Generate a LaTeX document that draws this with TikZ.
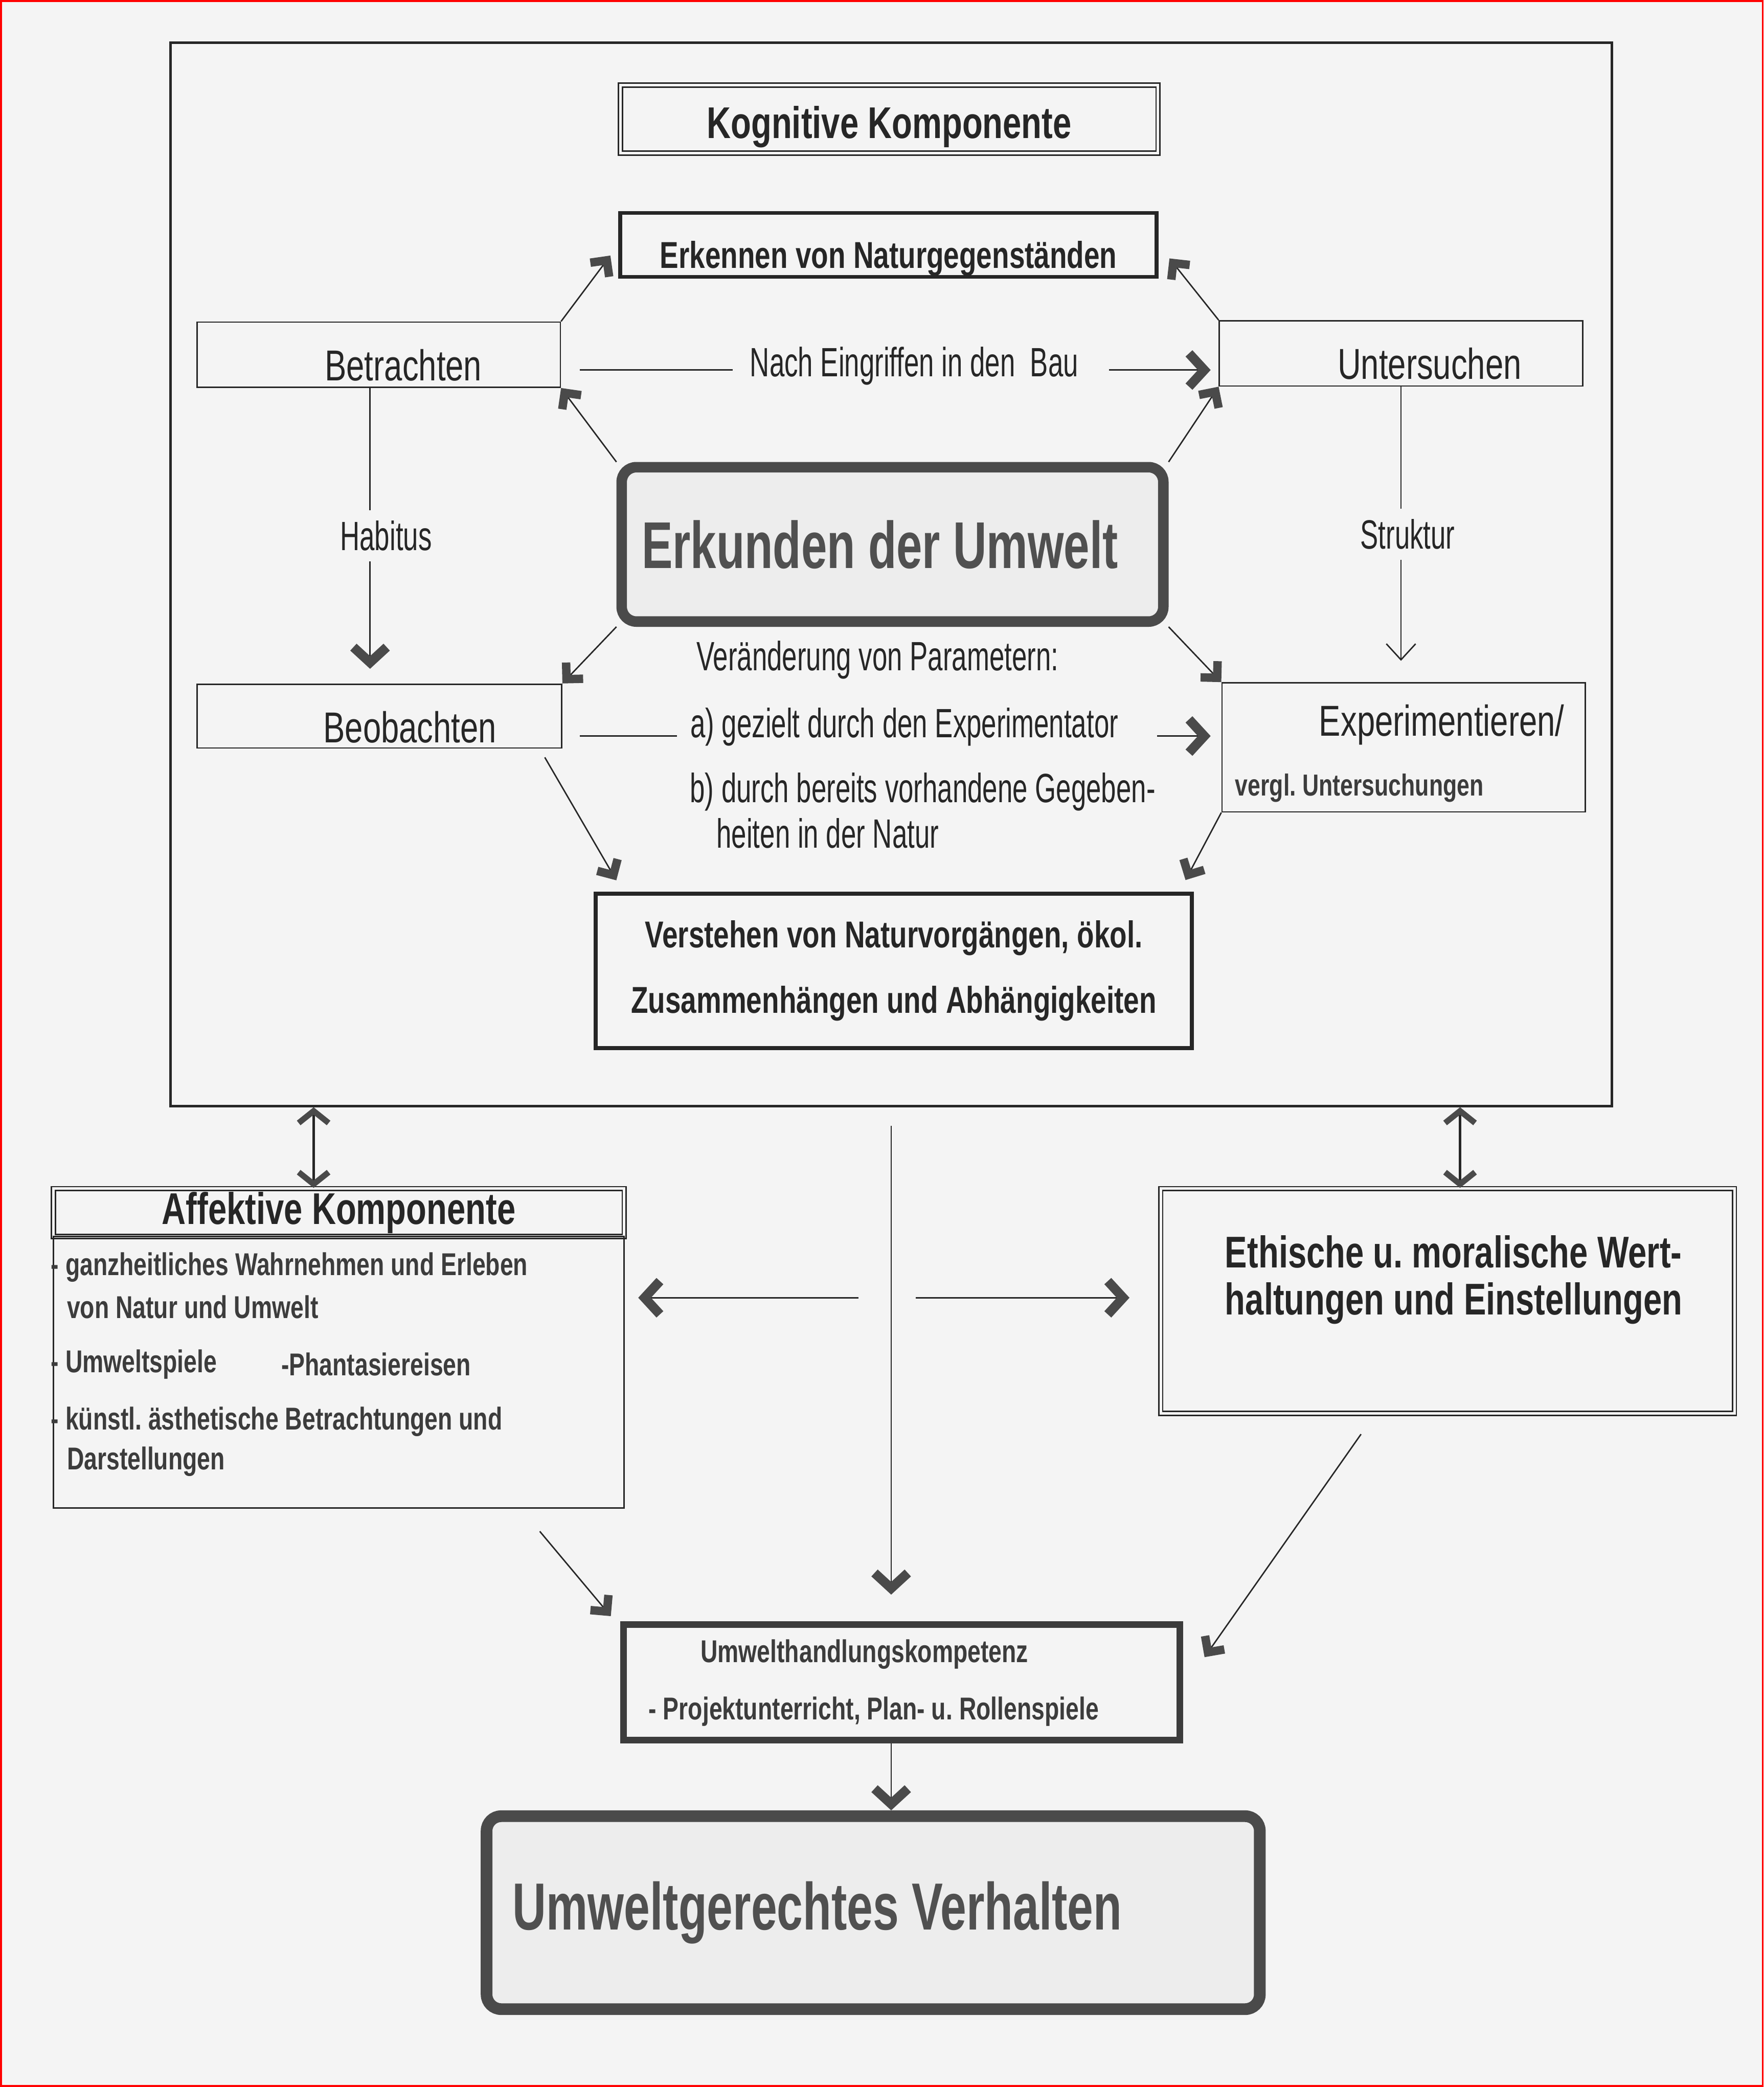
\documentclass[tikz,border=0pt]{standalone}
\usepackage{fontspec}
\setmainfont{Liberation Sans}
\newfontfamily\narrowfont{Liberation Sans}[FakeStretch=0.75]
\newfontfamily\thinfont{Liberation Sans}[FakeStretch=0.66]
\newfontfamily\bigfont{Liberation Sans}[FakeStretch=0.70]
\usetikzlibrary{arrows.meta,calc}

\definecolor{bg}{HTML}{F4F4F4}
\definecolor{ink}{HTML}{262626}
\definecolor{softink}{HTML}{3C3C3C}
\definecolor{grayink}{HTML}{505050}
\definecolor{tipgray}{HTML}{4A4A4A}

\tikzstyle{box}=[draw=ink,line width=0.6pt,inner sep=0pt,text=ink]
\tikzstyle{boldbox}=[box,line width=1.7pt]
\tikzstyle{dblbox}=[box,double=bg,double distance=1.1pt,line width=0.6pt]
\tikzstyle{actbox}=[box,minimum width=5.46cm,minimum height=0.98cm,text height=0.78cm,text depth=0cm,font=\narrowfont\fontsize{18.5}{22}\selectfont]
\tikzstyle{roundbox}=[draw=tipgray,fill=black!7,line width=4.5pt,rounded corners=0.22cm,inner sep=0pt,text=grayink]
\tikzstyle{con}=[draw=ink,line width=0.6pt]
\tikzstyle{chev}=[con,-{Straight Barb[length=2.3mm,width=5mm,line width=4pt,color=tipgray]}]
\tikzstyle{lchev}=[con,-{Straight Barb[angle=90:2.5mm,line width=3.6pt,color=tipgray]}]
\tikzstyle{dchev}=[con,line width=1.2pt,>={Straight Barb[length=1.8mm,width=4.5mm,line width=2.5pt,color=tipgray]},<->]
\tikzstyle{thinarr}=[con,-{Straight Barb[length=2.4mm,width=4.4mm]}]
\tikzstyle{thintxt}=[inner sep=0pt,text=ink,font=\thinfont\fontsize{17.5}{21}\selectfont]
\tikzstyle{smalltxt}=[inner sep=0pt,anchor=west,text=softink,font=\narrowfont\bfseries\fontsize{13.5}{16}\selectfont]

\begin{document}
\frenchspacing
\begin{tikzpicture}[x=0.02cm,y=-0.02cm]
	\useasboundingbox (0,0) rectangle (1325,1568);
	\fill[bg] (0,0) rectangle (1325,1568);
	\draw[red,line width=0.8pt] (0.7,0.7) rectangle (1324.3,1567.3);

	% kognitive Komponente
	\node (kogframe) at (669.5,431.5) [box,line width=1.1pt,minimum width=21.66cm,minimum height=15.98cm] {};
	\node (kog) at (668,89.5) [dblbox,minimum width=8.08cm,minimum height=1.02cm,text height=0.58cm,text depth=0cm,font=\narrowfont\bfseries\fontsize{19}{23}\selectfont] {Kognitive Komponente};
	\node (erk) at (667.5,184) [boldbox,minimum width=8.06cm,minimum height=0.96cm,text height=0.7cm,text depth=0cm,font=\narrowfont\bfseries\fontsize{16}{19}\selectfont] {Erkennen von Naturgegenständen};
	\node (betr) at (284.5,266.5) [actbox] {\hspace*{0.74cm}Betrachten};
	\node (unt) at (1052.5,265.5) [actbox] {\hspace*{0.86cm}Untersuchen};
	\node (erkund) at (670.5,409) [roundbox,minimum width=8.14cm,minimum height=2.32cm,font=\bigfont\bfseries\fontsize{28.3}{32}\selectfont] {Erkunden der Umwelt\hspace*{0.38cm}};
	\node (beob) at (285,538) [actbox,minimum width=5.48cm,minimum height=0.96cm,text height=0.8cm] {\hspace*{0.92cm}Beobachten};
	\node (exp) at (1054.5,561.5) [box,minimum width=5.46cm,minimum height=1.94cm,text width=5.06cm,align=flush left,inner xsep=0.2cm,text height=0.76cm,text depth=1.1cm,font=\narrowfont\fontsize{18.5}{22}\selectfont] {\hspace*{1.26cm}Experimentieren/\\[3.5pt]{\bfseries\color{softink}\fontsize{13}{15}\selectfont vergl. Untersuchungen}};
	\node (verst) at (671.5,729.5) [boldbox,minimum width=8.96cm,minimum height=2.32cm,align=center,font=\narrowfont\bfseries\fontsize{16}{28}\selectfont] {Verstehen von Naturvorgängen, ökol.\\Zusammenhängen und Abhängigkeiten};

	\coordinate (bn) at ([yshift=-0.23cm]betr.east);
	\draw[chev,shorten <=0.28cm,shorten >=0.12cm] (bn) -- node[pos=0.26,anchor=west,thintxt,fill=bg,inner xsep=0.26cm,yshift=0.06cm] (nach) {Nach Eingriffen in den\ \ Bau\hspace*{0.2cm}} (bn -| unt.west);
	\coordinate (hb) at ([xshift=-0.13cm]betr.south);
	\draw[chev,shorten >=0.22cm] (hb) -- node[thintxt,fill=bg,inner ysep=0.16cm,xshift=0.24cm] (habitus) {Habitus} (hb |- beob.north);
	\draw[thinarr,shorten >=0.32cm] (unt.south) -- node[thintxt,fill=bg,inner ysep=0.16cm,xshift=0.1cm] (struktur) {Struktur} (unt.south |- exp.north);

	\foreach \c/\t in {north west/betr.south east, north east/unt.south west, south west/beob.north east, south east/exp.north west}
		\draw[lchev] (erkund.\c) -- (\t);
	\draw[lchev,shorten >=0.2cm] (betr.north east) -- (erk.west);
	\draw[lchev,shorten >=0.26cm] (unt.north west) -- (erk.east);
	\draw[lchev,shorten <=0.15cm,shorten >=0.2cm] ([xshift=-0.34cm]beob.south east) -- ([xshift=0.44cm]verst.north west);
	\draw[lchev,shorten >=0.2cm] (exp.south west) -- ([xshift=-0.22cm]verst.north east);

	\coordinate (bl) at ([yshift=-0.3cm]beob.east);
	\draw[chev,shorten <=0.26cm,shorten >=0.16cm] (bl) -- node[pos=0.173,anchor=west,thintxt,fill=bg,inner xsep=0.2cm,yshift=0.14cm] (pa) {a) gezielt durch den Experimentator\hspace*{0.38cm}} (bl -| exp.west);
	\foreach \x/\y/\t [count=\i] in {523/496/{Veränderung von Parametern:}, 518/595/{b) durch bereits vorhandene Gegeben-}, 538/626/{heiten in der Natur}}
		\node[thintxt,anchor=west] (par\i) at (\x,\y) {\t};

	% affektive und ethische Komponente
	\node (affh) at (254.5,911) [dblbox,minimum width=8.58cm,minimum height=0.72cm,font=\narrowfont\bfseries\fontsize{19}{23}\selectfont] {Affektive Komponente};
	\node (affb) at (254.5,1031) [box,minimum width=8.58cm,minimum height=4.08cm] {};
	\foreach \x/\y/\t [count=\i] in {38/952/{- ganzheitliches Wahrnehmen und Erleben}, 50/982/{von Natur und Umwelt}, 38/1025/{- Umweltspiele}, 211/1025/{-Phantasiereisen}, 38/1068/{- künstl. ästhetische Betrachtungen und}, 50/1098/{Darstellungen}}
		\node[smalltxt] (aff\i) at (\x,\y) {\t};
	\node (eth) at (1087.5,977.5) [dblbox,minimum width=8.62cm,minimum height=3.38cm] {};
	\node (ethtxt) at (920,961.5) [anchor=west,align=flush left,inner sep=0pt,text=ink,font=\narrowfont\bfseries\fontsize{19}{20}\selectfont] {Ethische u. moralische Wert-\\haltungen und Einstellungen};

	% Umwelthandlung
	\node (uhk) at (677.5,1264) [box,draw=softink,line width=2.8pt,minimum width=8.36cm,minimum height=1.74cm] {};
	\foreach \x/\y/\t [count=\i] in {526/1243/Umwelthandlungskompetenz, 487/1286/{- Projektunterricht, Plan- u. Rollenspiele}}
		\node[smalltxt] (uhk\i) at (\x,\y) {\t};
	\node (uv) at (656,1437) [roundbox,line width=5pt,minimum width=11.62cm,minimum height=2.9cm,font=\bigfont\bfseries\fontsize{28.5}{32}\selectfont] {Umweltgerechtes Verhalten\hspace*{1.68cm}};

	\coordinate (d1) at ($(kogframe.south west)!0.1!(kogframe.south east)$);
	\coordinate (d2) at ($(kogframe.south west)!0.894!(kogframe.south east)$);
	\draw[dchev] (d1) -- (d1 |- affh.north);
	\draw[dchev] (d2) -- (d2 |- eth.north);
	\coordinate (c0) at ([yshift=-0.28cm]kogframe.south);
	\coordinate (hub) at (667,975);
	\draw[chev,shorten >=0.4cm] (c0) -- (c0 |- uhk.north);
	\draw[chev,shorten <=0.44cm,shorten >=0.2cm] (hub) -- (hub -| affb.east);
	\draw[chev,shorten <=0.42cm,shorten >=0.46cm] (hub) -- (hub -| eth.west);
	\draw[lchev,shorten >=0.1cm] ([xshift=-1.28cm,yshift=-0.34cm]affb.south east) -- ([xshift=-0.08cm]uhk.north west);
	\draw[lchev] ([xshift=3.02cm,yshift=-0.3cm]eth.south west) -- ([xshift=0.32cm,yshift=-0.54cm]uhk.north east);
	\draw[chev] (uhk.south -| c0) -- (uv.north -| c0);
\end{tikzpicture}
\end{document}
